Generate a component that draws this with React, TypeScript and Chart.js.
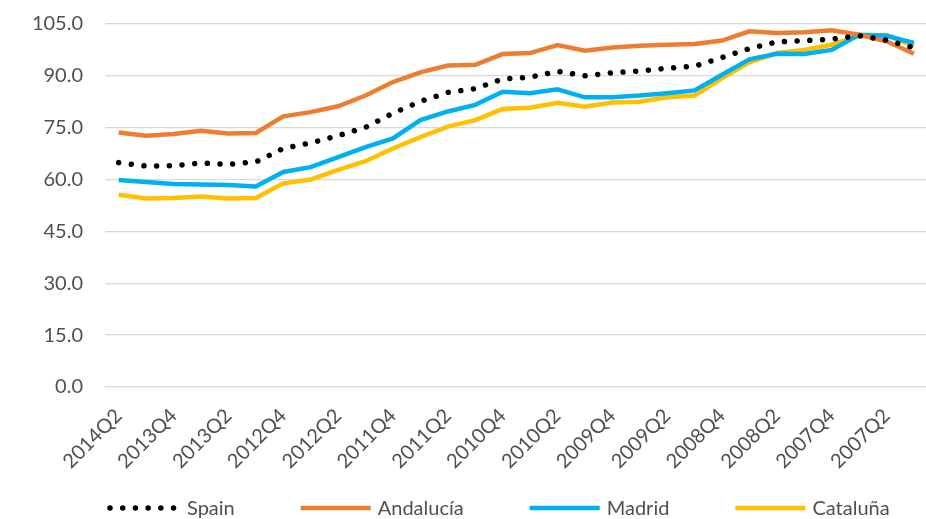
import React, { useEffect, useRef } from "react";
import { Chart, registerables } from "chart.js";

Chart.register(...registerables);

// Quarters, most recent first
const quarters = [
  "2014Q2", "2014Q1", "2013Q4", "2013Q3", "2013Q2", "2013Q1",
  "2012Q4", "2012Q3", "2012Q2", "2012Q1", "2011Q4", "2011Q3",
  "2011Q2", "2011Q1", "2010Q4", "2010Q3", "2010Q2", "2010Q1",
  "2009Q4", "2009Q3", "2009Q2", "2009Q1", "2008Q4", "2008Q3",
  "2008Q2", "2008Q1", "2007Q4", "2007Q3", "2007Q2", "2007Q1",
];

const spain = [
  64.9, 63.9, 64.0, 64.8, 64.4, 65.1, 69.0, 70.6, 72.7, 75.1,
  79.2, 82.6, 85.2, 86.3, 89.1, 89.6, 91.3, 90.0, 90.9, 91.4,
  92.2, 92.8, 95.3, 97.9, 99.8, 100.2, 100.6, 101.6, 100.3, 98.1,
];

const andalucia = [
  73.6, 72.7, 73.2, 74.1, 73.3, 73.5, 78.3, 79.5, 81.2, 84.3,
  88.2, 91.0, 93.0, 93.2, 96.3, 96.6, 98.9, 97.3, 98.2, 98.7,
  99.0, 99.2, 100.2, 102.9, 102.4, 102.6, 103.2, 101.9, 100.0, 96.4,
];

const madrid = [
  59.9, 59.3, 58.7, 58.6, 58.4, 58.0, 62.2, 63.6, 66.5, 69.4,
  71.9, 77.2, 79.7, 81.6, 85.4, 85.0, 86.1, 83.8, 83.8, 84.3,
  85.0, 85.8, 90.3, 94.8, 96.4, 96.3, 97.5, 101.9, 101.6, 99.5,
];

const cataluna = [
  55.6, 54.5, 54.7, 55.1, 54.5, 54.7, 58.9, 60.0, 62.8, 65.3,
  69.0, 72.3, 75.3, 77.2, 80.4, 80.8, 82.2, 81.1, 82.3, 82.5,
  83.8, 84.3, 89.3, 93.9, 96.6, 97.5, 99.0, 101.6, 101.8, 98.7,
];

const TEXT = "#505050";
const FONT = "Lato";

// Legend drawn along the bottom edge: a line sample then the series name
const bottomLegend = {
  id: "bottomLegend",
  afterDraw(chart: any) {
    const ctx = chart.ctx;
    const y = 508;
    let x = 110;
    ctx.save();
    ctx.font = `20px ${FONT}`;
    ctx.textBaseline = "middle";
    chart.data.datasets.forEach((ds: any) => {
      ctx.beginPath();
      ctx.strokeStyle = ds.borderColor;
      ctx.lineWidth = ds.borderWidth;
      ctx.lineCap = ds.borderDash ? "round" : "butt";
      ctx.setLineDash(ds.borderDash || []);
      ctx.moveTo(x, y);
      ctx.lineTo(x + 70, y);
      ctx.stroke();
      ctx.setLineDash([]);
      ctx.fillStyle = TEXT;
      ctx.fillText(ds.label, x + 77, y + 1);
      x += 77 + ctx.measureText(ds.label).width + 66;
    });
    ctx.restore();
  },
};

export default function App() {
  const canvasRef = useRef<HTMLCanvasElement>(null);

  useEffect(() => {
    const canvas = canvasRef.current!;
    const chart = new Chart(canvas, {
      type: "line",
      data: {
        labels: quarters,
        datasets: [
          {
            label: "Spain",
            data: spain,
            borderColor: "#000000",
            borderWidth: 5.5,
            borderDash: [0.01, 12.7],
            borderCapStyle: "round",
            pointRadius: 0,
            tension: 0,
          },
          {
            label: "Andalucía",
            data: andalucia,
            borderColor: "#ED7D31",
            borderWidth: 4.5,
            pointRadius: 0,
            tension: 0,
          },
          {
            label: "Madrid",
            data: madrid,
            borderColor: "#00B0F0",
            borderWidth: 4.5,
            pointRadius: 0,
            tension: 0,
          },
          {
            label: "Cataluña",
            data: cataluna,
            borderColor: "#FFC000",
            borderWidth: 4.5,
            pointRadius: 0,
            tension: 0,
          },
        ],
      },
      options: {
        responsive: false,
        animation: false,
        layout: { padding: { top: 24, right: 4, left: 0, bottom: 0 } },
        plugins: {
          legend: { display: false },
          tooltip: { enabled: false },
        },
        scales: {
          x: {
            offset: true,
            grid: { display: false },
            border: { display: false },
            ticks: {
              autoSkip: false,
              maxRotation: 45,
              minRotation: 45,
              padding: 9,
              color: TEXT,
              font: { family: FONT, size: 20 },
              callback: (_v: any, i: number) => (i % 2 === 0 ? quarters[i] : ""),
            },
            afterFit: (scale: any) => {
              scale.height = 132;
              scale.paddingTop = 0;
              scale.paddingBottom = 0;
            },
          },
          y: {
            min: 0,
            max: 105,
            grid: { color: "#D9D9D9", lineWidth: 1.3, drawTicks: false },
            border: { display: false },
            ticks: {
              stepSize: 15,
              padding: 22,
              color: TEXT,
              font: { family: FONT, size: 20 },
              callback: (v: any) => Number(v).toFixed(1),
            },
            afterFit: (scale: any) => {
              scale.width = 105;
              scale.paddingTop = 0;
              scale.paddingBottom = 0;
            },
          },
        },
      },
      plugins: [bottomLegend],
    });
    return () => chart.destroy();
  }, []);

  return (
    <div
      style={{
        position: "fixed",
        left: 0,
        top: 0,
        width: 926,
        height: 519,
        overflow: "hidden",
        background: "#ffffff",
      }}
    >
      <canvas ref={canvasRef} width={940} height={519} />
    </div>
  );
}
